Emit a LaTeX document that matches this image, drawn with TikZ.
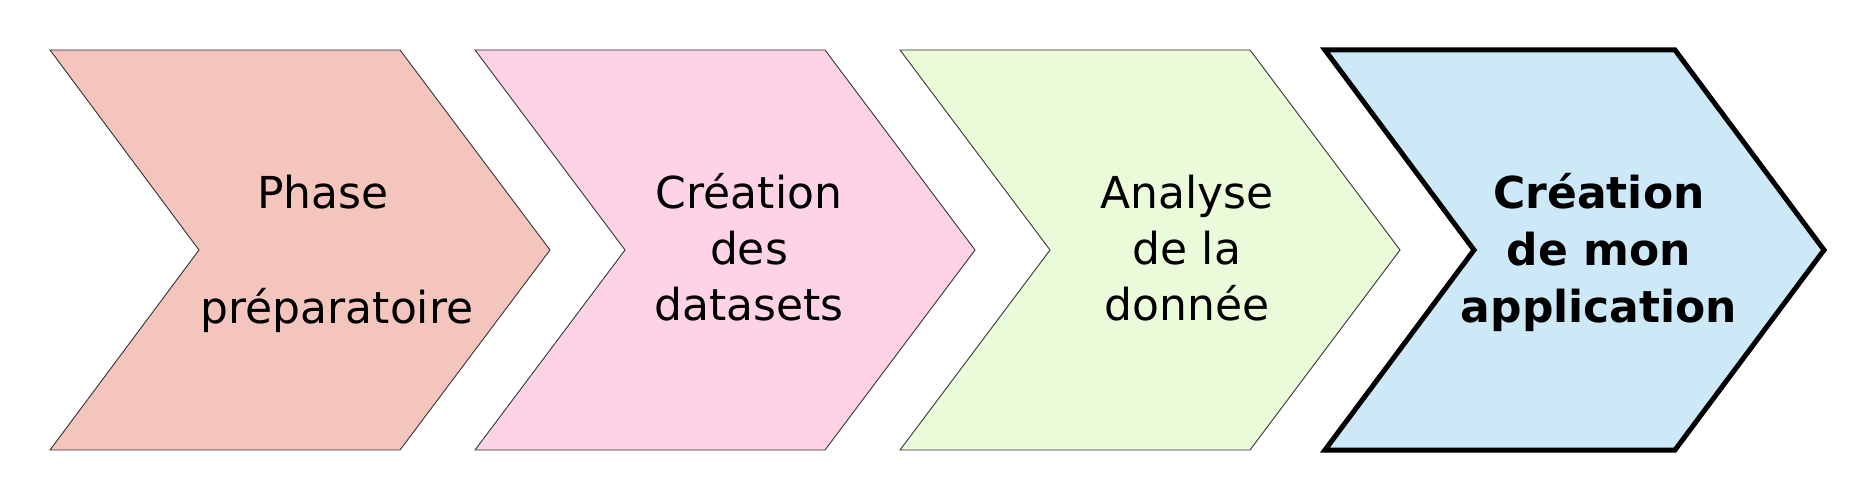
\documentclass[tikz,border=0pt]{standalone}
\usepackage{fontspec}
\setmainfont{DejaVu Sans}
\definecolor{cA}{HTML}{F4C5BD}
\definecolor{cB}{HTML}{FDD3E5}
\definecolor{cC}{HTML}{EBFAD9}
\definecolor{cD}{HTML}{CDE9F7}
\definecolor{edge}{HTML}{333333}
\tikzset{
  chev/.style={draw=edge, line width=0.9pt, line join=miter},
  chevbold/.style={draw=black, line width=5pt, line join=miter},
  lbl/.style={anchor=base, inner sep=0pt, font=\fontsize{44}{56}\selectfont, text=black},
  lblb/.style={lbl, font=\fontsize{44}{56}\selectfont\bfseries},
}
\begin{document}
\begin{tikzpicture}[x=1pt,y=-1pt]
\useasboundingbox (0,0) rectangle (1875,500);
% chevrons
\path[chev, fill=cA] (50,50) -- (400,50) -- (550,250) -- (400,450) -- (50,450) -- (199,250) -- cycle;
\path[chev, fill=cB] (475,50) -- (825,50) -- (975,250) -- (825,450) -- (475,450) -- (625,250) -- cycle;
\path[chev, fill=cC] (900,50) -- (1250,50) -- (1400,250) -- (1250,450) -- (900,450) -- (1050,250) -- cycle;
\path[chevbold, fill=cD] (1325,50) -- (1675,50) -- (1824,250) -- (1675,450) -- (1325,450) -- (1474,250) -- cycle;
% labels
\node[lbl] (a1) at (323,208) {Phase};
\node[lbl] (a2) at (337,323) {préparatoire};
\node[lbl] (b1) at (749,208) {Création};
\node[lbl] (b2) at (749,264) {des};
\node[lbl] (b3) at (749,320) {datasets};
\node[lbl] (c1) at (1187,208) {Analyse};
\node[lbl] (c2) at (1187,264) {de la};
\node[lbl] (c3) at (1187,320) {donnée};
\node[lblb] (d1) at (1599,208) {Création};
\node[lblb] (d2) at (1599,265) {de mon};
\node[lblb] (d3) at (1599,322) {application};
\end{tikzpicture}
\end{document}
